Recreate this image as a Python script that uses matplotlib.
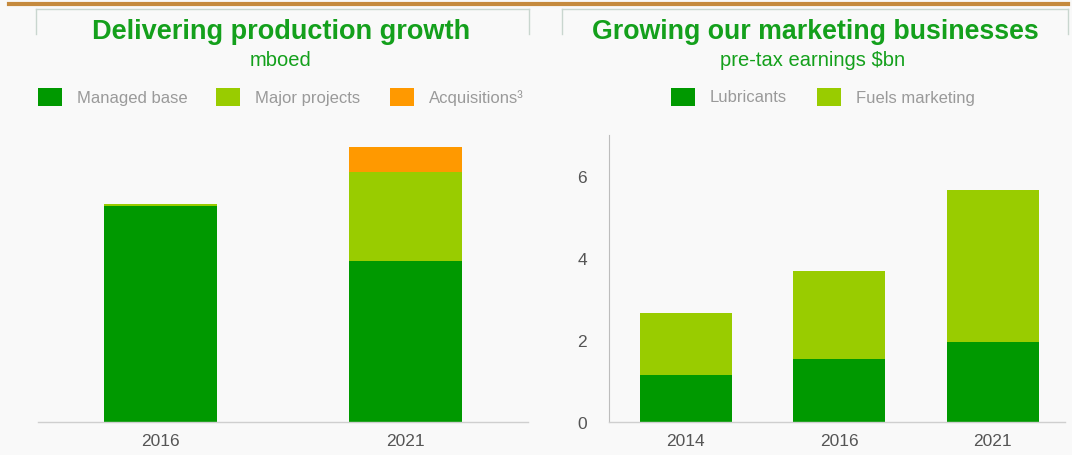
import matplotlib
matplotlib.use("Agg")
import matplotlib.pyplot as plt
from matplotlib.lines import Line2D
from matplotlib.patches import Rectangle

plt.rcParams["font.family"] = ["Liberation Sans", "DejaVu Sans"]

# production, mboed
prod_years = ["2016", "2021"]
managed_base = [3.28, 2.44]
major_projects = [0.03, 1.35]
acquisitions = [0.0, 0.38]

# marketing pre-tax earnings, $bn
mkt_years = ["2014", "2016", "2021"]
lubricants = [1.15, 1.54, 1.95]
fuels_marketing = [1.50, 2.14, 3.71]
mkt_ticks = [0, 2, 4, 6]

DARK = "#009900"
LIGHT = "#99cc00"
ORANGE = "#ff9900"
TITLE_GREEN = "#14a01c"
LEGEND_GREY = "#9a9a9a"
TICK_GREY = "#555555"
BOX_LINE = "#c9d6cf"

W, H = 1072, 456
fig = plt.figure(figsize=(W / 100, H / 100), dpi=100)
fig.patch.set_facecolor("#f9f9f9")


def fx(x):
    return x / W


def fy(y):
    return 1 - y / H


def axes_px(left, top, right, bottom):
    return fig.add_axes([fx(left), fy(bottom), (right - left) / W, (bottom - top) / H])


# top rule and header boxes
fig.add_artist(Line2D([fx(9), fx(1068)], [fy(4.5), fy(4.5)], color="#c58a3e", lw=3))
for x0, x1 in [(36, 529), (562, 1068)]:
    fig.add_artist(Line2D([fx(x0), fx(x1)], [fy(10), fy(10)], color=BOX_LINE, lw=1))
    for x in (x0, x1):
        fig.add_artist(Line2D([fx(x), fx(x)], [fy(10), fy(35)], color=BOX_LINE, lw=1))


def legend_item(x, y, color, label):
    # swatch is 24 x 18 px, label starts 15 px after it
    fig.add_artist(Rectangle((fx(x), fy(y + 9)), 24 / W, 18 / H,
                             transform=fig.transFigure, color=color, lw=0))
    fig.text(fx(x + 39), fy(y), label, color=LEGEND_GREY, fontsize=12, va="center")


# left panel: production growth
fig.text(fx(281), fy(32), "Delivering production growth", color=TITLE_GREEN,
         fontsize=19.5, fontweight="bold", ha="center", va="center")
fig.text(fx(281), fy(60), "mboed", color=TITLE_GREEN, fontsize=14.5, ha="center", va="center")
legend_item(38, 98, DARK, "Managed base")
legend_item(216, 98, LIGHT, "Major projects")
legend_item(390, 98, ORANGE, "Acquisitions³")

ax1 = axes_px(38, 136, 528, 423)
x1 = range(len(prod_years))
bottom2 = [a + b for a, b in zip(managed_base, major_projects)]
ax1.bar(x1, managed_base, width=0.46, color=DARK)
ax1.bar(x1, major_projects, width=0.46, bottom=managed_base, color=LIGHT)
ax1.bar(x1, acquisitions, width=0.46, bottom=bottom2, color=ORANGE)
ax1.set_xlim(-0.5, 1.5)
ax1.set_ylim(0, 4.35)
ax1.set_xticks(list(x1))
ax1.set_xticklabels(prod_years)
ax1.set_yticks([])

# right panel: marketing earnings
fig.text(fx(815), fy(32), "Growing our marketing businesses", color=TITLE_GREEN,
         fontsize=19.3, fontweight="bold", ha="center", va="center")
fig.text(fx(813), fy(60), "pre-tax earnings $bn", color=TITLE_GREEN, fontsize=14.5,
         ha="center", va="center")
legend_item(671, 98, DARK, "Lubricants")
legend_item(817, 98, LIGHT, "Fuels marketing")

ax2 = axes_px(609, 136, 1065, 423)
x2 = range(len(mkt_years))
ax2.bar(x2, lubricants, width=0.6, color=DARK)
ax2.bar(x2, fuels_marketing, width=0.6, bottom=lubricants, color=LIGHT)
ax2.set_xlim(-0.5, 2.47)
ax2.set_ylim(0, 7)
ax2.set_xticks(list(x2))
ax2.set_xticklabels(mkt_years)
ax2.set_yticks(mkt_ticks)

for ax in (ax1, ax2):
    ax.set_facecolor("none")
    for side in ("top", "right", "left"):
        ax.spines[side].set_visible(False)
    ax.spines["bottom"].set_color("#cfcfcf")
    ax.spines["bottom"].set_linewidth(1)
    ax.tick_params(length=0, labelsize=12.5, labelcolor=TICK_GREY, pad=8)
    ax.set_axisbelow(True)

ax2.spines["left"].set_visible(True)
ax2.spines["left"].set_color("#bdbdbd")
ax2.spines["left"].set_linewidth(0.8)
ax2.tick_params(axis="y", pad=16)

fig.savefig("out.png", dpi=100, facecolor=fig.get_facecolor())
